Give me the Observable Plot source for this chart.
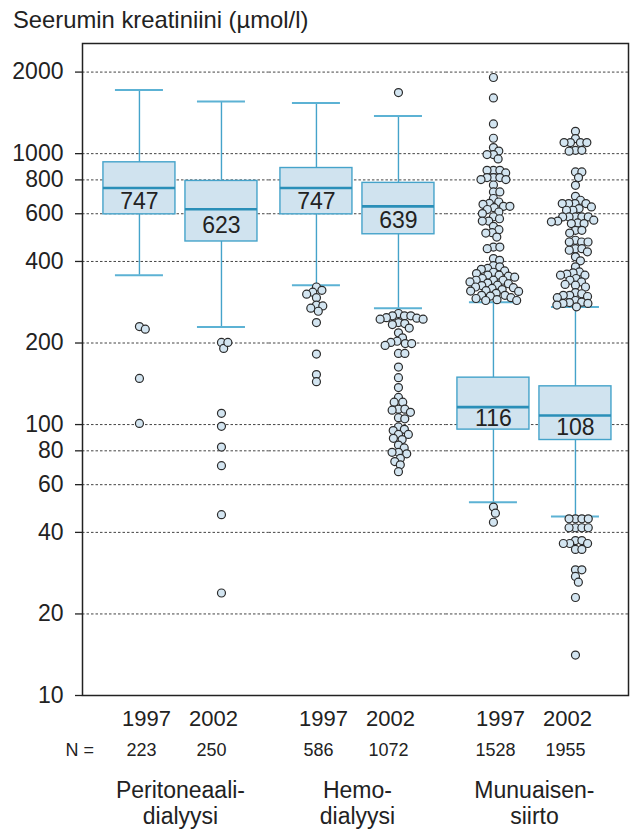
<!DOCTYPE html>
<html><head><meta charset="utf-8">
<script src="https://cdn.jsdelivr.net/npm/d3@7"></script>
<script src="https://cdn.jsdelivr.net/npm/@observablehq/plot@0.6"></script>
<style>
html,body{margin:0;padding:0;background:#fff;}
#wrap{position:relative;width:635px;height:830px;font-family:"Liberation Sans",Arial,sans-serif;}
#title{position:absolute;left:13px;top:8px;font-size:23.8px;line-height:23px;color:#222;white-space:nowrap;}
</style></head><body>
<div id="wrap"><div id="title">Seerumin kreatiniini (µmol/l)</div></div>
<script>
const groups = ["Peritoneaali-\ndialyysi", "Hemo-\ndialyysi", "Munuaisen-\nsiirto"];
const years = ["1997", "2002"];
const counts = [223, 250, 586, 1072, 1528, 1955];
const medians = [747, 623, 747, 639, 116, 108];
const q1 = [597, 474, 597, 504, 95.8, 87.7];
const q3 = [929, 793, 885, 780, 149, 138.4];
const whiskerLow = [356, 229, 327, 269, 51.7, 45.8];
const whiskerHigh = [1719, 1557, 1539, 1378, 282.7, 271.6];
const yTicks = [10, 20, 40, 60, 80, 100, 200, 400, 600, 800, 1000, 2000];

const outPD97 = [230, 225, 148, 101];
const outPD02 = [201, 191, 201, 110, 98.5, 82.6, 70.5, 46.5, 23.9];
const outHD97 = [322, 313, 308, 303, 294, 276, 274, 269, 262, 238, 182, 153, 144];
const outHD02 = [1681, 257, 252, 252, 252, 248, 247, 245, 245, 238, 236, 234, 227, 218, 209, 203, 201, 199, 199, 196, 183, 183, 163, 149, 137, 126, 121, 121, 114, 114, 113, 111, 106, 105, 98, 96, 95, 92, 92, 89, 88, 84, 82, 79, 79, 78, 75, 73, 71, 67];
const outMS97 = [1910, 1606, 1287, 1140, 1053, 1022, 992, 992, 956, 868, 868, 868, 849, 816, 816, 816, 802, 802, 766, 722, 722, 683, 663, 655, 650, 639, 639, 632, 622, 609, 601, 585, 575, 564, 564, 539, 524, 511, 509, 492, 452, 452, 446, 410, 404, 386, 382, 377, 374, 369, 365, 361, 356, 356, 353, 350, 346, 341, 341, 341, 336, 333, 331, 327, 326, 322, 320, 318, 315, 312, 311, 310, 305, 300, 300, 298, 294, 292, 289, 287, 287, 49.6, 47.1, 43.6];
const outMS02 = [1209, 1137, 1099, 1099, 1099, 1099, 1029, 1029, 1021, 856, 856, 816, 764, 696, 673, 654, 654, 654, 654, 636, 627, 618, 618, 584, 584, 584, 584, 584, 568, 564, 560, 555, 552, 552, 521, 521, 509, 479, 472, 472, 472, 446, 446, 440, 434, 416, 402, 382, 366, 363, 359, 356, 356, 346, 341, 336, 329, 327, 322, 307, 304, 300, 300, 297, 294, 287, 283, 282, 280, 280, 276, 272, 44.9, 44.9, 44.9, 44.9, 41.6, 41.6, 41.6, 41.6, 37.3, 37.3, 36.4, 36.4, 36.4, 34.6, 34.6, 29.1, 29.1, 27.5, 26.2, 23.0, 14.1];
const outliers = [outPD97, outPD02, outHD97, outHD02, outMS97, outMS02];

// table built from the arrays
const cells = [];
const points = [];
groups.forEach((g, gi) => years.forEach((yr, yi) => {
  const k = gi * 2 + yi;
  cells.push({group: g, year: yr, n: counts[k], med: medians[k], q1: q1[k], q3: q3[k], lo: whiskerLow[k], hi: whiskerHigh[k]});
  outliers[k].forEach(v => points.push({group: g, year: yr, value: v}));
}));
const gridRows = groups.flatMap(g => yTicks.map(t => ({group: g, tick: t})));

// layout of the facet band scale
const W = 635, H = 830, mL = 82, mR = 7, mT = 43, mB = 135;
const fxPadOuter = 0.0424, fxAlign = 0.63;
const innerW = W - mL - mR;
const fxStep = innerW / (groups.length + 2 * fxPadOuter);
const spare = innerW - groups.length * fxStep;
const leftGap = spare * fxAlign, rightGap = spare * (1 - fxAlign);

// beeswarm initializer: spreads the points of each box sideways so they do not overlap
function swarm(D) {
  return function (data, facets, channels, scales) {
    const XV = channels.x.value, YV = channels.y.value;
    const X = new Float64Array(XV.length);
    const sx = scales.x, sy = scales.y;
    for (const facet of facets) {
      const byKey = d3.group(facet, i => XV[i]);
      for (const [key, I] of byKey) {
        const cx = sx(key);
        const order = Array.from(I).sort((a, b) => sy(YV[a]) - sy(YV[b]));
        const placed = [];
        for (const i of order) {
          const y = sy(YV[i]);
          const cands = [0];
          for (const p of placed) {
            const dy = Math.abs(p.y - y);
            if (dy < D) { const dx = Math.sqrt(D * D - dy * dy); cands.push(p.x + dx, p.x - dx); }
          }
          cands.sort((a, b) => Math.abs(a) - Math.abs(b));
          let chosen = 0;
          for (const c of cands) {
            if (placed.every(p => (p.x - c) ** 2 + (p.y - y) ** 2 >= D * D - 1e-6)) { chosen = c; break; }
          }
          placed.push({x: chosen, y});
          X[i] = cx + chosen;
        }
      }
    }
    return {data, facets, channels: {x: {value: X}}};
  };
}

const boxStroke = "#45a3ca";
const textColor = "#222";
const gridStyle = {stroke: "#444", strokeOpacity: 1, strokeWidth: 1, strokeDasharray: "2.5,2"};

const chart = Plot.plot({
  width: W, height: H,
  marginTop: mT, marginRight: mR, marginBottom: mB, marginLeft: mL,
  style: {fontFamily: '"Liberation Sans", Arial, sans-serif', background: "transparent", color: textColor},
  fx: {domain: groups, paddingInner: 0, paddingOuter: fxPadOuter, align: fxAlign, round: false, axis: null},
  x: {domain: years, paddingInner: 0.122, paddingOuter: 0.14, round: false, axis: null},
  y: {type: "log", domain: [10, 2550], axis: null},
  marks: [
    Plot.ruleY(gridRows, {filter: d => d.group === groups[0], fx: "group", y: "tick", insetLeft: -leftGap, ...gridStyle}),
    Plot.ruleY(gridRows, {filter: d => d.group === groups[1], fx: "group", y: "tick", ...gridStyle}),
    Plot.ruleY(gridRows, {filter: d => d.group === groups[2], fx: "group", y: "tick", insetRight: -rightGap, ...gridStyle}),
    Plot.ruleX(cells, {fx: "group", x: "year", y1: "lo", y2: "q1", stroke: boxStroke, strokeWidth: 1.4}),
    Plot.ruleX(cells, {fx: "group", x: "year", y1: "q3", y2: "hi", stroke: boxStroke, strokeWidth: 1.4}),
    Plot.tickY(cells, {fx: "group", x: "year", y: "lo", insetLeft: 12, insetRight: 12, stroke: "#5cb2d4", strokeWidth: 2}),
    Plot.tickY(cells, {fx: "group", x: "year", y: "hi", insetLeft: 12, insetRight: 12, stroke: "#5cb2d4", strokeWidth: 2}),
    Plot.barY(cells, {fx: "group", x: "year", y1: "q1", y2: "q3", fill: "#d0e3ef", stroke: boxStroke, strokeWidth: 1.4}),
    Plot.tickY(cells, {fx: "group", x: "year", y: "med", stroke: "#2a8fb8", strokeWidth: 2.6}),
    Plot.text(cells, {fx: "group", x: "year", y: d => Math.sqrt(d.med * d.q1), text: d => String(d.med), fontSize: 23, fill: textColor}),
    Plot.dot(points, Plot.initializer({fx: "group", x: "year", y: "value", r: 4, fill: "#d3e5f1", stroke: "#2b2b2b", strokeWidth: 1.2}, swarm(6.4))),
    Plot.frame({facet: "super", insetLeft: -leftGap, insetRight: -rightGap, stroke: "#222", strokeWidth: 1.5}),
    Plot.axisY(yTicks, {dx: -leftGap, tickSize: 7, tickPadding: 12, fontSize: 23, tickFormat: d => String(d), color: textColor, strokeWidth: 1.3}),
    // year labels
    Plot.text(cells, {filter: d => d.year === "1997", fx: "group", x: "year", text: "year", frameAnchor: "bottom", dy: 30, dx: 7, fontSize: 22, fill: textColor}),
    Plot.text(cells, {filter: d => d.year === "2002", fx: "group", x: "year", text: "year", frameAnchor: "bottom", dy: 30, dx: -8, fontSize: 22, fill: textColor}),
    // counts
    Plot.text(["N ="], {facet: "super", text: d => d, frameAnchor: "bottom-left", textAnchor: "start", dx: -17 - leftGap, dy: 60, fontSize: 18, fill: textColor}),
    Plot.text(cells, {filter: d => d.year === "1997", fx: "group", x: "year", text: d => String(d.n), frameAnchor: "bottom", dy: 60, dx: 2, fontSize: 18, fill: textColor}),
    Plot.text(cells, {filter: d => d.year === "2002", fx: "group", x: "year", text: d => String(d.n), frameAnchor: "bottom", dy: 60, dx: -10, fontSize: 18, fill: textColor}),
    // group labels
    Plot.text(groups, {fx: d => d, text: d => d, frameAnchor: "bottom", lineAnchor: "top", dy: 85, lineHeight: 1.1, fontSize: 23, fill: textColor})
  ]
});
document.getElementById("wrap").prepend(chart);
</script>
</body></html>
